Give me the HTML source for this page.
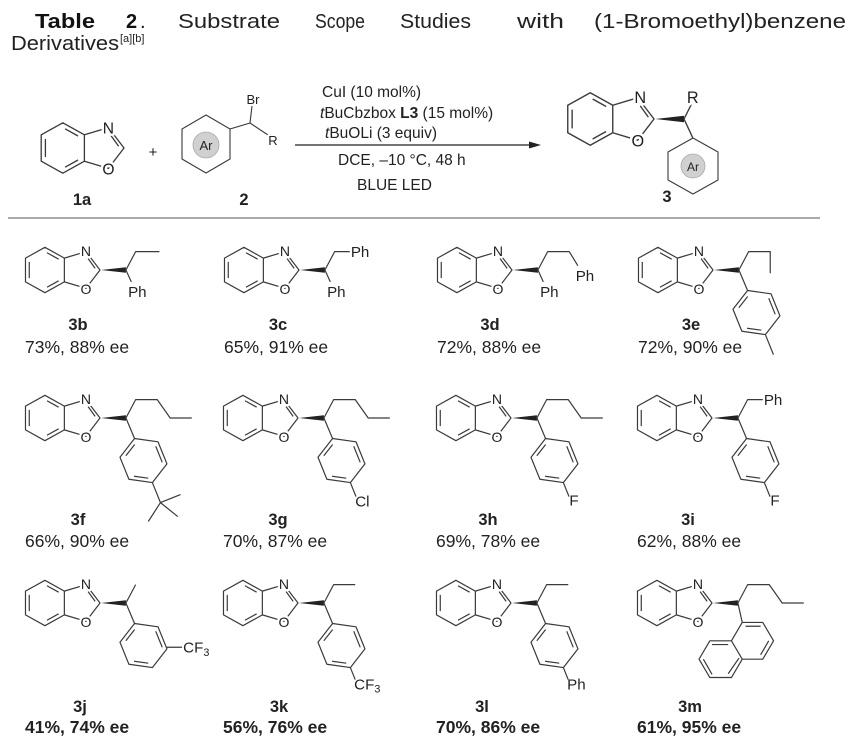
<!DOCTYPE html>
<html><head><meta charset="utf-8"><style>
html,body{margin:0;padding:0;background:#fff;}
svg{display:block;}
text{font-family:"Liberation Sans",Arial,sans-serif;}
.b{stroke:#3a3a3a;stroke-width:1.1;fill:none;stroke-linejoin:round;}
.at{font-size:13px;fill:#222;stroke:#fff;stroke-width:4px;paint-order:stroke;stroke-linejoin:round;}
.lab{font-size:14px;fill:#222;}
.cd{font-size:16.5px;font-weight:bold;fill:#222;text-anchor:middle;}
.yl{font-size:17.5px;fill:#222;}
.yb{font-size:17.5px;fill:#222;font-weight:bold;}
.cond{font-size:15.5px;fill:#222;}
</style></head><body>
<svg width="854" height="750" viewBox="0 0 854 750" xmlns="http://www.w3.org/2000/svg">
<defs>
<g id="bx">
<path class="b" d="M-33,-11 L-51,-21 L-69,-11 L-69,11 L-51,21 L-33,11 Z M-33,-11 L-13,-17 L0,0 L-13,17 L-33,11"/>
<path class="b" d="M-38.3,-10 L-49.1,-16 M-65.5,-7.5 L-65.5,7.5 M-49.1,16 L-38.3,10 M-4.5,-1.5 L-11,-10.5"/>
<polygon points="1,0 24,-2.6 24,2.6" fill="#222"/>
</g>
<g id="bx0">
<path class="b" d="M-33,-11 L-51,-21 L-69,-11 L-69,11 L-51,21 L-33,11 Z M-33,-11 L-13,-17 L0,0 L-13,17 L-33,11"/>
<path class="b" d="M-38.3,-10 L-49.1,-16 M-65.5,-7.5 L-65.5,7.5 M-49.1,16 L-38.3,10 M-4.5,-1.5 L-11,-10.5"/>
</g>
<g id="ar">
<path class="b" d="M0,0 L19,11 L19,33 L0,44 L-19,33 L-19,11 Z"/>
<path class="b" d="M15.5,14 L15.5,30 M-2,38.8 L-13.5,32.2 M-13.5,11.8 L-2,5.2"/>
</g>
</defs>

<!-- Title -->
<text x="35" y="28" font-size="20" font-weight="bold" fill="#111" textLength="60" lengthAdjust="spacingAndGlyphs">Table</text>
<text x="126" y="28" font-size="20" font-weight="bold" fill="#111">2</text>
<text x="140" y="28" font-size="20" fill="#111">.</text>
<text x="178" y="28" font-size="20" fill="#222" textLength="102" lengthAdjust="spacingAndGlyphs">Substrate</text>
<text x="315" y="28" font-size="20" fill="#222" textLength="50" lengthAdjust="spacingAndGlyphs">Scope</text>
<text x="400" y="28" font-size="20" fill="#222" textLength="71" lengthAdjust="spacingAndGlyphs">Studies</text>
<text x="517" y="28" font-size="20" fill="#222" textLength="47" lengthAdjust="spacingAndGlyphs">with</text>
<text x="594" y="28" font-size="20" fill="#222" textLength="252" lengthAdjust="spacingAndGlyphs">(1-Bromoethyl)benzene</text>
<text x="11" y="50" font-size="20" fill="#222" textLength="108" lengthAdjust="spacingAndGlyphs">Derivatives</text>
<text x="120" y="42" font-size="11" fill="#222">[a][b]</text>

<!-- Reaction: 1a -->
<g transform="translate(124,148) scale(1.2)">
<use href="#bx0"/>
<text class="at" x="-13" y="-12" text-anchor="middle">N</text>
<text class="at" x="-13" y="22" text-anchor="middle">O</text>
</g>
<text class="cd" x="82" y="205">1a</text>
<text x="153" y="157" font-size="15" fill="#222" text-anchor="middle">+</text>
<!-- 2 -->
<g>
<path class="b" d="M206,115 L230,129 L230,159 L206,173 L182,159 L182,129 Z M230,129 L250,123 L252,106 M250,123 L268,135"/>
<circle cx="206" cy="145" r="13" fill="#d0d0d0" stroke="#aaa" stroke-width="0.8"/>
<text x="206" y="150" font-size="13" fill="#222" text-anchor="middle">Ar</text>
<text class="at" x="253" y="104" text-anchor="middle">Br</text>
<text class="at" x="273" y="145" text-anchor="middle">R</text>
</g>
<text class="cd" x="244" y="205">2</text>
<!-- conditions -->
<text class="cond" x="322" y="97">CuI (10 mol%)</text>
<text class="cond" x="320" y="118"><tspan font-style="italic">t</tspan>BuCbzbox <tspan font-weight="bold">L3</tspan> (15 mol%)</text>
<text class="cond" x="325" y="138"><tspan font-style="italic">t</tspan>BuOLi (3 equiv)</text>
<line x1="295" y1="145" x2="532" y2="145" stroke="#222" stroke-width="1.2"/>
<polygon points="541,145 529,141.5 529,148.5" fill="#222"/>
<text class="cond" x="338" y="165">DCE, &#8211;10 &#176;C, 48 h</text>
<text class="cond" x="357" y="190">BLUE LED</text>
<!-- product 3 -->
<g transform="translate(654,119) scale(1.25)">
<use href="#bx"/>
<text class="at" x="-11" y="-13" text-anchor="middle">N</text>
<text class="at" x="-13" y="22" text-anchor="middle">O</text>
<path class="b" d="M24,0 L30,-12"/>
<text class="at" x="31" y="-13" text-anchor="middle">R</text>
<path class="b" d="M24,0 L31,15"/>
</g>
<g>
<path class="b" d="M693,138 L718,152 L718,180 L693,194 L668,180 L668,152 Z"/>
<circle cx="693" cy="166" r="12" fill="#d0d0d0" stroke="#aaa" stroke-width="0.8"/>
<text x="693" y="171" font-size="12" fill="#222" text-anchor="middle">Ar</text>
</g>
<text class="cd" x="667" y="202">3</text>

<line x1="8" y1="218" x2="820" y2="218" stroke="#555" stroke-width="1"/>

<!-- ROW 1 -->
<g transform="translate(100,270) scale(1.08)">
<use href="#bx"/>
<text class="at" x="-13" y="-13" text-anchor="middle">N</text>
<text class="at" x="-13" y="22" text-anchor="middle">O</text>
<path class="b" d="M24,0 L33,-17 L55,-17 M24,0 L29,11"/>
<text class="lab" x="26" y="25">Ph</text>
</g>
<text class="cd" x="78" y="330">3b</text>
<text class="yl" x="25" y="353">73%, 88% ee</text>

<g transform="translate(299,270) scale(1.08)">
<use href="#bx"/>
<text class="at" x="-13" y="-13" text-anchor="middle">N</text>
<text class="at" x="-13" y="22" text-anchor="middle">O</text>
<path class="b" d="M24,0 L33,-17 L47,-17 M24,0 L29,11"/>
<text class="lab" x="48" y="-12">Ph</text>
<text class="lab" x="26" y="25">Ph</text>
</g>
<text class="cd" x="278" y="330">3c</text>
<text class="yl" x="224" y="353">65%, 91% ee</text>

<g transform="translate(512,270) scale(1.08)">
<use href="#bx"/>
<text class="at" x="-13" y="-13" text-anchor="middle">N</text>
<text class="at" x="-13" y="22" text-anchor="middle">O</text>
<path class="b" d="M24,0 L33,-17 L53,-17 L61,-4 M24,0 L29,11"/>
<text class="lab" x="59" y="10">Ph</text>
<text class="lab" x="26" y="25">Ph</text>
</g>
<text class="cd" x="490" y="330">3d</text>
<text class="yl" x="437" y="353">72%, 88% ee</text>

<g transform="translate(713,270) scale(1.08)">
<use href="#bx"/>
<text class="at" x="-13" y="-13" text-anchor="middle">N</text>
<text class="at" x="-13" y="22" text-anchor="middle">O</text>
<path class="b" d="M24,0 L33,-17 L53,-17 L53,3 M24,0 L32,19"/>
<g transform="translate(32,19) rotate(-22)"><use href="#ar"/><path class="b" d="M0,44 L0,64"/></g>
</g>
<text class="cd" x="691" y="330">3e</text>
<text class="yl" x="638" y="353">72%, 90% ee</text>

<!-- ROW 2 -->
<g transform="translate(100,418) scale(1.08)">
<use href="#bx"/>
<text class="at" x="-13" y="-13" text-anchor="middle">N</text>
<text class="at" x="-13" y="22" text-anchor="middle">O</text>
<path class="b" d="M24,0 L33,-17 L53,-17 L65,0 L85,0 M24,0 L32,19"/>
<g transform="translate(32,19) rotate(-22)"><use href="#ar"/><path class="b" d="M0,44 L0,64 L20,64 M0,64 L-17,76 M0,64 L10,82"/></g>
</g>
<text class="cd" x="78" y="525">3f</text>
<text class="yl" x="25" y="547">66%, 90% ee</text>

<g transform="translate(298,418) scale(1.08)">
<use href="#bx"/>
<text class="at" x="-13" y="-13" text-anchor="middle">N</text>
<text class="at" x="-13" y="22" text-anchor="middle">O</text>
<path class="b" d="M24,0 L33,-17 L53,-17 L65,0 L85,0 M24,0 L32,19"/>
<g transform="translate(32,19) rotate(-22)"><use href="#ar"/><path class="b" d="M0,44 L0,58"/></g>
<text class="lab" x="53" y="82">Cl</text>
</g>
<text class="cd" x="278" y="525">3g</text>
<text class="yl" x="223" y="547">70%, 87% ee</text>

<g transform="translate(511,418) scale(1.08)">
<use href="#bx"/>
<text class="at" x="-13" y="-13" text-anchor="middle">N</text>
<text class="at" x="-13" y="22" text-anchor="middle">O</text>
<path class="b" d="M24,0 L33,-17 L53,-17 L65,0 L85,0 M24,0 L32,19"/>
<g transform="translate(32,19) rotate(-22)"><use href="#ar"/><path class="b" d="M0,44 L0,58"/></g>
<text class="lab" x="54" y="81">F</text>
</g>
<text class="cd" x="488" y="525">3h</text>
<text class="yl" x="436" y="547">69%, 78% ee</text>

<g transform="translate(712,418) scale(1.08)">
<use href="#bx"/>
<text class="at" x="-13" y="-13" text-anchor="middle">N</text>
<text class="at" x="-13" y="22" text-anchor="middle">O</text>
<path class="b" d="M24,0 L33,-17 L47,-17 M24,0 L32,19"/>
<text class="lab" x="48" y="-12">Ph</text>
<g transform="translate(32,19) rotate(-22)"><use href="#ar"/><path class="b" d="M0,44 L0,58"/></g>
<text class="lab" x="54" y="81">F</text>
</g>
<text class="cd" x="688" y="525">3i</text>
<text class="yl" x="637" y="547">62%, 88% ee</text>

<!-- ROW 3 -->
<g transform="translate(100,603) scale(1.08)">
<use href="#bx"/>
<text class="at" x="-13" y="-13" text-anchor="middle">N</text>
<text class="at" x="-13" y="22" text-anchor="middle">O</text>
<path class="b" d="M24,0 L33,-17 M24,0 L32,19 M62,41 L76,41"/>
<g transform="translate(32,19) rotate(-22)"><use href="#ar"/></g>
<text class="lab" x="77" y="46">CF<tspan font-size="10" dy="3">3</tspan></text>
</g>
<text class="cd" x="80" y="712">3j</text>
<text class="yb" x="25" y="733">41%, 74% ee</text>

<g transform="translate(298,603) scale(1.08)">
<use href="#bx"/>
<text class="at" x="-13" y="-13" text-anchor="middle">N</text>
<text class="at" x="-13" y="22" text-anchor="middle">O</text>
<path class="b" d="M24,0 L33,-17 L53,-17 M24,0 L32,19"/>
<g transform="translate(32,19) rotate(-22)"><use href="#ar"/><path class="b" d="M0,44 L0,56"/></g>
<text class="lab" x="52" y="80">CF<tspan font-size="10" dy="3">3</tspan></text>
</g>
<text class="cd" x="279" y="712">3k</text>
<text class="yb" x="223" y="733">56%, 76% ee</text>

<g transform="translate(511,603) scale(1.08)">
<use href="#bx"/>
<text class="at" x="-13" y="-13" text-anchor="middle">N</text>
<text class="at" x="-13" y="22" text-anchor="middle">O</text>
<path class="b" d="M24,0 L33,-17 L53,-17 M24,0 L32,19"/>
<g transform="translate(32,19) rotate(-22)"><use href="#ar"/><path class="b" d="M0,44 L0,56"/></g>
<text class="lab" x="52" y="80">Ph</text>
</g>
<text class="cd" x="482" y="712">3l</text>
<text class="yb" x="436" y="733">70%, 86% ee</text>

<g transform="translate(712,603) scale(1.08)">
<use href="#bx"/>
<text class="at" x="-13" y="-13" text-anchor="middle">N</text>
<text class="at" x="-13" y="22" text-anchor="middle">O</text>
<path class="b" d="M24,0 L33,-17 L53,-17 L65,0 L85,0 M24,0 L28,18"/>
<path class="b" d="M28,18 L47,18 L57,35 L47,52 L28,52 L18,35 Z M18,35 L-2,35 L-12,52 L-2,69 L18,69 L28,52"/>
<path class="b" d="M31,21.5 L45,21.5 M52.5,35 L45,48 M-8,52 L0,66 M15,65.5 L25,51 M0,38.5 L15,38.5"/>
</g>
<text class="cd" x="690" y="712">3m</text>
<text class="yb" x="637" y="733">61%, 95% ee</text>
</svg>
</body></html>
